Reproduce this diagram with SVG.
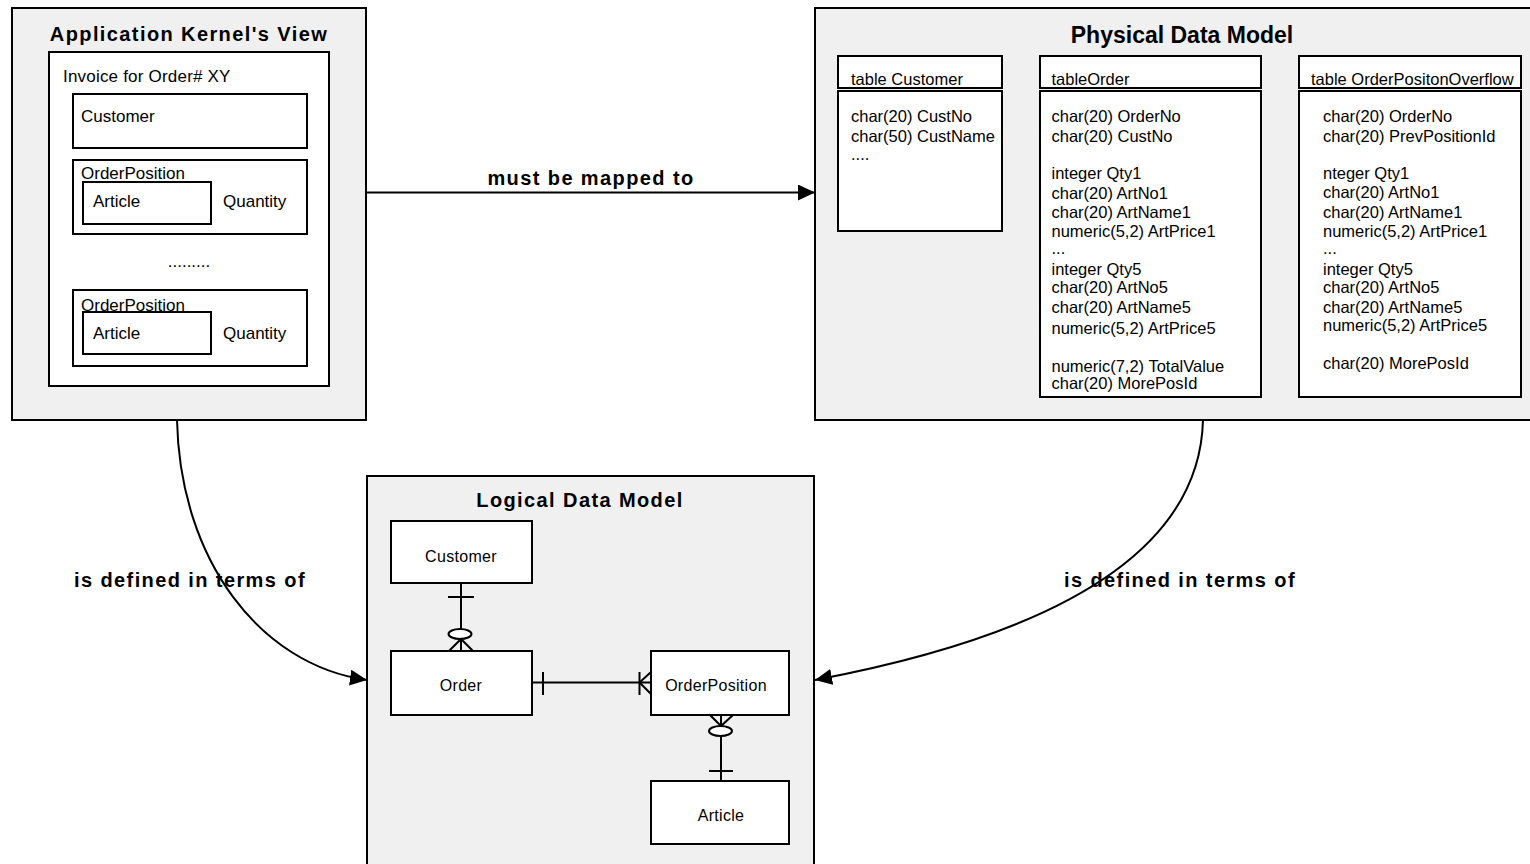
<svg xmlns="http://www.w3.org/2000/svg" width="1530" height="864" viewBox="0 0 1530 864">
  <defs>
    <marker id="arrow" markerUnits="userSpaceOnUse" markerWidth="18" markerHeight="16" refX="17" refY="8" orient="auto">
      <path d="M0,0 L17,8 L0,16 z" fill="#000"/>
    </marker>
    <style>
      text { font-family: "Liberation Sans", Arial, sans-serif; fill: #000; }
      .panel { fill: #f0f0f0; stroke: #000; stroke-width: 2; }
      .box { fill: #fff; stroke: #000; stroke-width: 2; }
      .title { font-size: 20px; font-weight: bold; letter-spacing: 1.4px; text-anchor: middle; }
      .ptitle { font-size: 23px; font-weight: bold; text-anchor: middle; }
      .lbl { font-size: 20px; font-weight: bold; letter-spacing: 1.4px; text-anchor: middle; }
      .app { font-size: 17px; }
      .tbl { font-size: 16.5px; }
      .ent { font-size: 16px; letter-spacing: 0.3px; text-anchor: middle; }
      .wire { fill: none; stroke: #000; stroke-width: 2; }
    </style>
  </defs>

  <rect width="1530" height="864" fill="#fff"/>

  <!-- Application kernel's view -->
  <g id="app-view">
    <rect class="panel" x="12" y="8" width="354" height="412"/>
    <text class="title" x="189" y="41">Application Kernel's View</text>
    <rect class="box" x="49" y="52" width="280" height="334"/>
    <text class="app" x="63" y="82" font-size="16.4" letter-spacing="0.2">Invoice for Order# XY</text>
    <rect class="box" x="73" y="94" width="234" height="54"/>
    <text class="app" x="81" y="122">Customer</text>
    <rect class="box" x="73" y="160" width="234" height="74"/>
    <text class="app" x="81" y="179">OrderPosition</text>
    <rect class="box" x="83" y="182" width="128" height="42"/>
    <text class="app" x="93" y="207">Article</text>
    <text class="app" x="223" y="207">Quantity</text>
    <text class="app" x="189" y="267" text-anchor="middle">.........</text>
    <rect class="box" x="73" y="290" width="234" height="76"/>
    <text class="app" x="81" y="311">OrderPosition</text>
    <rect class="box" x="83" y="312" width="128" height="42"/>
    <text class="app" x="93" y="339">Article</text>
    <text class="app" x="223" y="339">Quantity</text>
  </g>

  <!-- Physical data model -->
  <g id="physical-model">
    <rect class="panel" x="815" y="8" width="730" height="412"/>
    <text class="ptitle" x="1182" y="43">Physical Data Model</text>
  </g>

  <g id="table-customer">
    <rect class="box" x="838" y="56" width="164" height="32"/>
    <rect class="box" x="838" y="91" width="164" height="140"/>
    <text class="tbl" x="851" y="84.5">table Customer</text>
    <text class="tbl" x="851" y="121.5">char(20) CustNo</text>
    <text class="tbl" x="851" y="141.5">char(50) CustName</text>
    <text class="tbl" x="851" y="160">....</text>
  </g>

  <g id="table-order">
    <rect class="box" x="1040" y="56" width="221" height="32"/>
    <rect class="box" x="1040" y="91" width="221" height="306"/>
    <text class="tbl" x="1051.5" y="84.5">tableOrder</text>
    <text class="tbl" x="1051.5" y="121.5">char(20) OrderNo</text>
    <text class="tbl" x="1051.5" y="141.5">char(20) CustNo</text>
    <text class="tbl" x="1051.5" y="179">integer Qty1</text>
    <text class="tbl" x="1051.5" y="198.5">char(20) ArtNo1</text>
    <text class="tbl" x="1051.5" y="218">char(20) ArtName1</text>
    <text class="tbl" x="1051.5" y="237">numeric(5,2) ArtPrice1</text>
    <text class="tbl" x="1051.5" y="253.5">...</text>
    <text class="tbl" x="1051.5" y="275">integer Qty5</text>
    <text class="tbl" x="1051.5" y="293">char(20) ArtNo5</text>
    <text class="tbl" x="1051.5" y="313">char(20) ArtName5</text>
    <text class="tbl" x="1051.5" y="333.5">numeric(5,2) ArtPrice5</text>
    <text class="tbl" x="1051.5" y="371.5">numeric(7,2) TotalValue</text>
    <text class="tbl" x="1051.5" y="389">char(20) MorePosId</text>
  </g>

  <g id="table-overflow">
    <rect class="box" x="1299" y="56" width="222" height="32"/>
    <rect class="box" x="1299" y="91" width="222" height="306"/>
    <text class="tbl" x="1311" y="84.5">table OrderPositonOverflow</text>
    <text class="tbl" x="1323" y="121.5">char(20) OrderNo</text>
    <text class="tbl" x="1323" y="141.5">char(20) PrevPositionId</text>
    <text class="tbl" x="1323" y="179">nteger Qty1</text>
    <text class="tbl" x="1323" y="197.5">char(20) ArtNo1</text>
    <text class="tbl" x="1323" y="218">char(20) ArtName1</text>
    <text class="tbl" x="1323" y="237">numeric(5,2) ArtPrice1</text>
    <text class="tbl" x="1323" y="253.5">...</text>
    <text class="tbl" x="1323" y="275">integer Qty5</text>
    <text class="tbl" x="1323" y="293">char(20) ArtNo5</text>
    <text class="tbl" x="1323" y="312.5">char(20) ArtName5</text>
    <text class="tbl" x="1323" y="331">numeric(5,2) ArtPrice5</text>
    <text class="tbl" x="1323" y="369">char(20) MorePosId</text>
  </g>

  <!-- Logical data model -->
  <g id="logical-model">
    <rect class="panel" x="367" y="476" width="447" height="400"/>
    <text class="title" x="580" y="507">Logical Data Model</text>
  </g>

  <g id="entity-customer">
    <rect class="box" x="391" y="521" width="141" height="62"/>
    <text class="ent" x="461" y="562">Customer</text>
  </g>
  <g id="entity-order">
    <rect class="box" x="391" y="651" width="141" height="64"/>
    <text class="ent" x="461" y="691">Order</text>
  </g>
  <g id="entity-orderposition">
    <rect class="box" x="651" y="651" width="138" height="64"/>
    <text class="ent" x="716" y="691">OrderPosition</text>
  </g>
  <g id="entity-article">
    <rect class="box" x="651" y="781" width="138" height="63"/>
    <text class="ent" x="721" y="821">Article</text>
  </g>

  <!-- Connectors -->
  <g id="connectors">
    <!-- mapping arrow between views -->
    <line class="wire" x1="366" y1="192.5" x2="815" y2="192.5" marker-end="url(#arrow)"/>
    <text class="lbl" x="591" y="185">must be mapped to</text>

    <!-- "defined in terms of" curves -->
    <path class="wire" d="M177,420 C180,560 260,665 367,680" marker-end="url(#arrow)"/>
    <text class="lbl" x="190" y="587">is defined in terms of</text>
    <path class="wire" d="M1203,420 C1200,540 1080,630 815,680" marker-end="url(#arrow)"/>
    <text class="lbl" x="1180" y="587">is defined in terms of</text>

    <!-- Customer 1 : 0..n Order -->
    <line class="wire" x1="461" y1="583" x2="461" y2="651"/>
    <line class="wire" x1="448" y1="597" x2="474" y2="597"/>
    <ellipse cx="460" cy="634" rx="11.5" ry="5" fill="#fff" stroke="#000" stroke-width="2"/>
    <path class="wire" d="M449,651 L461,639 L473,651"/>

    <!-- Order 1 : 1..n OrderPosition -->
    <line class="wire" x1="532" y1="682.5" x2="651" y2="682.5"/>
    <line class="wire" x1="543" y1="672" x2="543" y2="695"/>
    <line class="wire" x1="639.5" y1="672" x2="639.5" y2="695"/>
    <path class="wire" d="M651,672 L639.5,682.5 L651,694"/>

    <!-- OrderPosition 0..n : 1 Article -->
    <line class="wire" x1="721" y1="715" x2="721" y2="781"/>
    <path class="wire" d="M710,715 L721,726 L733,715"/>
    <ellipse cx="720.5" cy="731" rx="11.5" ry="5" fill="#fff" stroke="#000" stroke-width="2"/>
    <line class="wire" x1="709" y1="771" x2="733" y2="771"/>
  </g>
</svg>
